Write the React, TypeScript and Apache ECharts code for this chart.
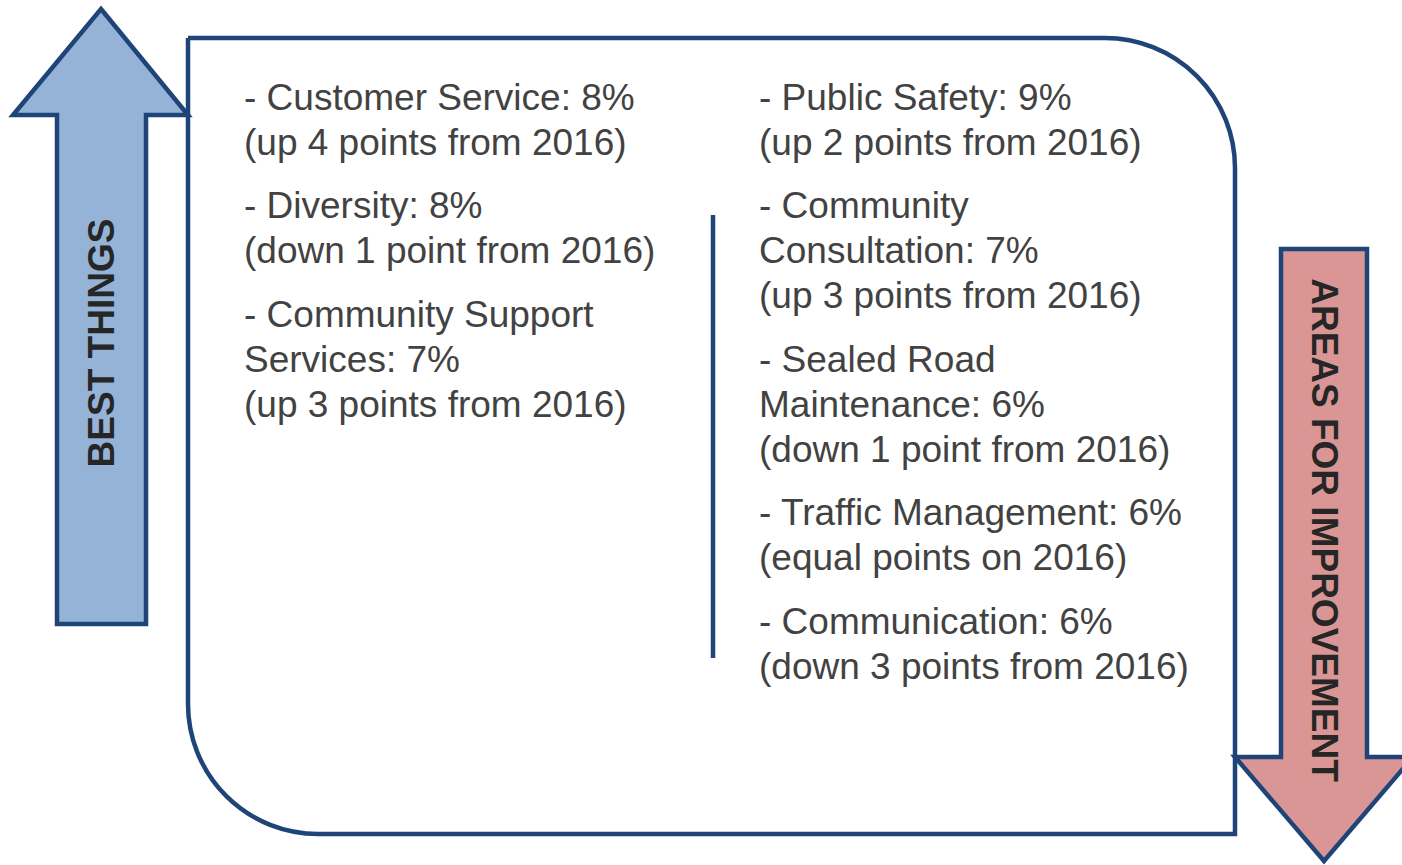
import React, { useEffect, useRef } from "react";
import * as echarts from "echarts";

const leftItems: string[][] = [
  ["- Customer Service: 8%", "(up 4 points from 2016)"],
  ["- Diversity: 8%", "(down 1 point from 2016)"],
  ["- Community Support", "Services: 7%", "(up 3 points from 2016)"],
];

const rightItems: string[][] = [
  ["- Public Safety: 9%", "(up 2 points from 2016)"],
  ["- Community", "Consultation: 7%", "(up 3 points from 2016)"],
  ["- Sealed Road", "Maintenance: 6%", "(down 1 point from 2016)"],
  ["- Traffic Management: 6%", "(equal points on 2016)"],
  ["- Communication: 6%", "(down 3 points from 2016)"],
];

const upLabel = "BEST THINGS";
const downLabel = "AREAS FOR IMPROVEMENT";

const DARK = "#1f4477";
const TEXT = "#424242";
const FONT = "'Liberation Sans', Arial, Helvetica, sans-serif";

function columnTexts(items: string[][], x: number, startY: number) {
  const lineH = 45;
  const gap = 18.5;
  const els: any[] = [];
  let y = startY;
  items.forEach((para) => {
    para.forEach((line) => {
      els.push({
        type: "text",
        x,
        y,
        style: {
          text: line,
          fill: TEXT,
          font: `37px ${FONT}`,
          textAlign: "left",
          textVerticalAlign: "middle",
        },
      });
      y += lineH;
    });
    y += gap;
  });
  return els;
}

export default function App() {
  const ref = useRef<HTMLDivElement>(null);
  useEffect(() => {
    if (!ref.current) return;
    const chart = echarts.init(ref.current, undefined, { renderer: "svg" });
    const elements: any[] = [
      {
        type: "rect",
        shape: { x: 188, y: 38, width: 1047, height: 796, r: [0, 130, 0, 130] },
        style: { fill: "#ffffff", stroke: DARK, lineWidth: 4.5 },
      },
      {
        type: "polygon",
        shape: {
          points: [
            [101, 9],
            [188, 115],
            [146, 115],
            [146, 624],
            [57, 624],
            [57, 115],
            [13, 115],
          ],
        },
        style: { fill: "#95b3d7", stroke: DARK, lineWidth: 4.5, lineJoin: "miter" },
      },
      {
        type: "polygon",
        shape: {
          points: [
            [1281, 249],
            [1367, 249],
            [1367, 757],
            [1413, 757],
            [1324, 861],
            [1235, 757],
            [1281, 757],
          ],
        },
        style: { fill: "#d99694", stroke: DARK, lineWidth: 4.5, lineJoin: "miter" },
      },
      {
        type: "line",
        shape: { x1: 713, y1: 215, x2: 713, y2: 658 },
        style: { stroke: DARK, lineWidth: 4.5 },
      },
      {
        type: "text",
        x: 101,
        y: 343,
        rotation: Math.PI / 2,
        style: {
          text: upLabel,
          fill: "#262626",
          font: `bold 37px ${FONT}`,
          textAlign: "center",
          textVerticalAlign: "middle",
        },
      },
      {
        type: "text",
        x: 1324,
        y: 530,
        rotation: -Math.PI / 2,
        style: {
          text: downLabel,
          fill: "#262626",
          font: `bold 37px ${FONT}`,
          textAlign: "center",
          textVerticalAlign: "middle",
        },
      },
      ...columnTexts(leftItems, 244, 97),
      ...columnTexts(rightItems, 759, 97),
    ];
    chart.setOption({
      animation: false,
      graphic: { elements },
    });
    return () => chart.dispose();
  }, []);
  return (
    <div
      ref={ref}
      style={{ position: "absolute", left: 0, top: 0, width: 1402, height: 865, background: "#fff" }}
    />
  );
}
